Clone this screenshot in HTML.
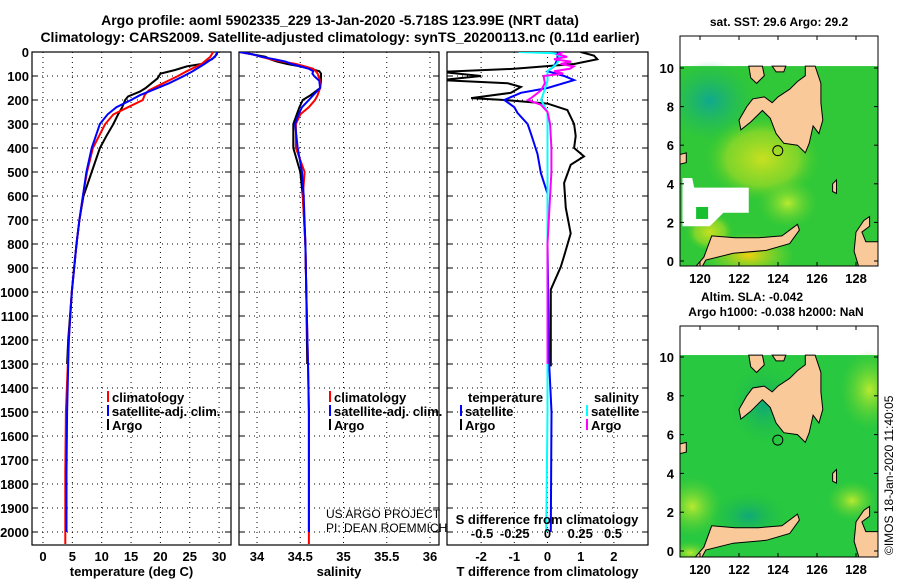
<!DOCTYPE html>
<html><head><meta charset="utf-8"><style>
body{margin:0;background:#fff;}
svg{display:block;font-family:"Liberation Sans",sans-serif;font-weight:bold;}
</style></head><body>
<svg id="c" width="900" height="580" viewBox="0 0 900 580">
<defs>
<clipPath id="cp1"><rect x="32" y="52" width="199" height="493"/></clipPath>
<clipPath id="cp2"><rect x="239" y="52" width="200" height="493"/></clipPath>
<clipPath id="cp3"><rect x="447" y="52" width="201" height="493"/></clipPath>
<clipPath id="cpm1"><rect x="680" y="36" width="198" height="230"/></clipPath>
<clipPath id="cpm2"><rect x="680" y="326" width="198" height="231"/></clipPath>
<radialGradient id="g1" cx="0.5" cy="0.5" r="0.5"><stop offset="0" stop-color="#c8e020"/><stop offset="0.6" stop-color="#90d828" stop-opacity="0.8"/><stop offset="1" stop-color="#30c830" stop-opacity="0"/></radialGradient>
<radialGradient id="g2" cx="0.5" cy="0.5" r="0.5"><stop offset="0" stop-color="#10a890"/><stop offset="1" stop-color="#20b860" stop-opacity="0"/></radialGradient>
<radialGradient id="g3" cx="0.5" cy="0.5" r="0.5"><stop offset="0" stop-color="#f0d010"/><stop offset="1" stop-color="#b0e020" stop-opacity="0"/></radialGradient>
<radialGradient id="g4" cx="0.5" cy="0.5" r="0.5"><stop offset="0" stop-color="#b8ea30"/><stop offset="1" stop-color="#60d030" stop-opacity="0"/></radialGradient>
<radialGradient id="g5" cx="0.5" cy="0.5" r="0.5"><stop offset="0" stop-color="#10a878"/><stop offset="1" stop-color="#20c040" stop-opacity="0"/></radialGradient>
</defs>
<text x="340" y="25" text-anchor="middle" font-size="14">Argo profile: aoml 5902335_229 13-Jan-2020 -5.718S 123.99E (NRT data)</text>
<text x="340" y="42" text-anchor="middle" font-size="14">Climatology: CARS2009. Satellite-adjusted climatology: synTS_20200113.nc (0.11d earlier)</text>
<g id="p1"></g>
<g id="p2"></g>
<g id="p3"></g>
<g id="m1"></g>
<g id="m2"></g>
<text x="779" y="26" text-anchor="middle" font-size="12">sat. SST: 29.6 Argo: 29.2</text>
<text x="752" y="301" text-anchor="middle" font-size="12">Altim. SLA: -0.042</text>
<text x="776" y="316" text-anchor="middle" font-size="12">Argo h1000: -0.038 h2000: NaN</text>
<text transform="translate(893,555) rotate(-90)" font-size="12" font-weight="normal">©IMOS 18-Jan-2020 11:40:05</text>
</svg>
<script>
// ---- data ----
const tDepthArgo=[0,10,30,50,60,75,90,110,130,150,165,185,200,230,260,300,350,400,450,500,600,700,800,900,1000,1100,1200,1300];
const tArgo=[29.7,29.6,28.8,27.0,24.5,22.5,20.0,19.5,18.5,17.5,16.5,14.5,14.0,13.5,12.8,12.0,10.8,9.7,9.0,8.3,6.9,6.2,5.7,5.3,4.9,4.6,4.3,4.1];
const tDepthClim=[0,20,50,80,100,130,160,180,200,230,260,300,400,500,600,700,800,1000,1200,1500,1750,2050];
const tClim=[29.0,28.5,27.0,24.5,23.0,20.5,18.0,17.3,17.0,14.5,12.0,10.6,8.5,7.5,6.8,6.2,5.7,4.9,4.4,3.9,3.8,3.8];
const tDepthSat=[0,20,50,80,100,130,160,180,200,230,260,300,400,500,600,700,800,1000,1200,1500,1750,2000];
const tSat=[29.7,29.3,27.5,25.5,24.0,21.5,18.5,16.5,15.0,12.5,11.0,9.7,8.3,7.4,6.8,6.2,5.7,4.9,4.4,4.1,4.0,4.0];
const sDepthArgo=[0,10,20,30,40,50,60,70,80,90,100,120,150,180,200,230,260,300,400,500,600,800,1000,1300];
const sArgo=[33.8,33.95,34.1,34.15,34.23,34.35,34.5,34.62,34.72,34.74,34.74,34.74,34.73,34.62,34.53,34.49,34.46,34.42,34.42,34.5,34.53,34.56,34.57,34.58];
const sDepthClim=[0,10,20,30,40,50,60,70,80,90,100,120,150,180,200,230,260,300,400,500,600,800,1000,1300,1500,2050];
const sClim=[33.8,33.95,34.05,34.15,34.3,34.45,34.55,34.65,34.68,34.7,34.71,34.73,34.73,34.7,34.67,34.6,34.5,34.45,34.45,34.55,34.53,34.56,34.57,34.59,34.6,34.6];
const sDepthSat=[0,10,20,30,40,50,60,70,80,90,100,120,150,180,200,230,260,300,400,500,600,800,1000,1300,1500,2000];
const sSat=[33.8,33.95,34.05,34.2,34.33,34.4,34.5,34.6,34.65,34.64,34.66,34.72,34.73,34.65,34.6,34.52,34.48,34.44,34.47,34.52,34.54,34.56,34.57,34.59,34.6,34.6];
const dtDepthArgo=[0,15,30,50,70,83,100,117,130,146,170,192,200,215,242,300,350,400,435,470,546,650,756,850,895,990,1100,1200,1310];
const dtArgo=[1.0,1.4,1.5,0.8,-1.0,-3.2,-2.0,-3.2,-1.2,-0.8,-1.1,-2.3,-1.3,0.0,0.6,0.8,0.85,0.8,1.1,0.7,0.5,0.55,0.7,0.5,0.4,0.1,0.1,0.1,0.1];
const dtDepthSat=[0,30,60,80,100,117,150,170,200,230,254,300,340,425,505,590,800,1300,1500,2000];
const dtSat=[0.3,0.3,0.2,0.0,0.5,0.8,0.0,-0.8,-1.3,-1.0,-0.9,-0.6,-0.5,-0.3,-0.2,0.0,0.0,0.05,0.12,0.1];
const dsDepthSat=[0,5,20,50,80,120,170,200,250,500,1000,1500,2000];
const dsSat=[-0.22,0.05,0.1,0.07,0.0,0.0,-0.03,-0.05,0.0,0.0,0.0,0.0,-0.01];
const dsDepthArgo=[0,10,20,30,40,50,60,70,80,90,100,130,160,190,200,220,250,300,400,500,800,1000,1300];
const dsArgo=[0.12,0.08,0.15,0.05,0.18,0.1,0.2,0.17,0.05,0.12,-0.03,-0.02,-0.05,-0.12,-0.15,-0.05,0.0,0.02,0.03,0.03,0.0,0.0,0.0];
const depthTicks=[0,100,200,300,400,500,600,700,800,900,1000,1100,1200,1300,1400,1500,1600,1700,1800,1900,2000];
const tTicks=[0,5,10,15,20,25,30];
const sTicks=[34,34.5,35,35.5,36];
const dtTicks=[-2,-1,0,1,2];
const dsTicks=[-0.5,-0.25,0,0.25,0.5];
const dsTickLabels=["-0.5","-0.25","0","0.25","0.5"];
const latTicks=[0,2,4,6,8,10];
const lonTicks=[120,122,124,126,128];
const argoLon=123.99, argoLat=5.718;

// ---- axes ----
const Y0=52, Y1=545;
const yD=d=>Y0+d*0.24;
const x1=v=>43+v*5.87;
const x2=v=>257+(v-34)*86.5;
const x3=v=>547.5+v*33.2;
const x3s=v=>547.5+v*131;
const NS='http://www.w3.org/2000/svg';
function mk(tag,attrs,parent){const e=document.createElementNS(NS,tag);for(const k in attrs)e.setAttribute(k,attrs[k]);parent.appendChild(e);return e;}
function txt(parent,x,y,s,size,anchor,name){const e=mk('text',{x:x,y:y,'font-size':size,'text-anchor':anchor||'middle'},parent);e.textContent=s;


return e;}

function frame(g,L,R,xt,xfn,labels,showY,xlab){
  const grid=mk('g',{stroke:'#000','stroke-width':1,'stroke-dasharray':'1,4'},g);
  
  
  depthTicks.forEach(d=>{mk('line',{x1:L,x2:R,y1:yD(d),y2:yD(d)},grid);
    mk('line',{x1:L,x2:L+6,y1:yD(d),y2:yD(d),stroke:'#000'},g);
    mk('line',{x1:R-6,x2:R,y1:yD(d),y2:yD(d),stroke:'#000'},g);
    if(showY){txt(g,29,yD(d)+5,String(d),13,'end','depth-tick-label');}});
  xt.forEach((v,i)=>{const x=xfn(v);mk('line',{x1:x,x2:x,y1:Y0,y2:Y1},grid);
    if(labels) txt(g,x,561,labels[i],13,'middle','x-tick-label');});
  mk('rect',{x:L,y:Y0,width:R-L,height:Y1-Y0,fill:'none',stroke:'#000','stroke-width':1.2},g);
  txt(g,(L+R)/2,576,xlab,13,'middle','x-axis-title');
}
function line(g,xs,ds,xfn,color,clip,name){
  const pts=xs.map((v,i)=>xfn(v).toFixed(1)+','+yD(ds[i]).toFixed(1)).join(' ');
  const p=mk('polyline',{points:pts,fill:'none',stroke:color,'stroke-width':2,'clip-path':'url(#'+clip+')'},g);
  
  
}
function legend(g,x,y,items){items.forEach((it,i)=>{
  const r=mk('rect',{x:x,y:y+i*14-11,width:2,height:11,fill:it[1]},g);
  
  
  txt(g,x+5,y+i*14,it[0],13,'start','legend-entry');});}

const p1=document.getElementById('p1'),p2=document.getElementById('p2'),p3=document.getElementById('p3');
frame(p1,32,231,tTicks,x1,tTicks.map(String),true,'temperature (deg C)');
line(p1,tArgo,tDepthArgo,x1,'#000','cp1','temperature-argo-line');
line(p1,tClim,tDepthClim,x1,'#f00','cp1','temperature-climatology-line');
line(p1,tSat,tDepthSat,x1,'#00f','cp1','temperature-satellite-line');
legend(p1,107,402,[['climatology','#f00'],['satellite-adj. clim.','#00f'],['Argo','#000']]);

frame(p2,239,439,sTicks,x2,sTicks.map(String),false,'salinity');
line(p2,sArgo,sDepthArgo,x2,'#000','cp2','salinity-argo-line');
line(p2,sClim,sDepthClim,x2,'#f00','cp2','salinity-climatology-line');
line(p2,sSat,sDepthSat,x2,'#00f','cp2','salinity-satellite-line');
legend(p2,329,402,[['climatology','#f00'],['satellite-adj. clim.','#00f'],['Argo','#000']]);
const c1=txt(p2,326,518,'US ARGO PROJECT',12,'start','credit-project');c1.setAttribute('font-weight','normal');
const c2=txt(p2,326,532,'PI: DEAN ROEMMICH',12,'start','credit-pi');c2.setAttribute('font-weight','normal');

frame(p3,447,648,dtTicks,x3,dtTicks.map(String),false,'T difference from climatology');
line(p3,dtArgo,dtDepthArgo,x3,'#000','cp3','t-diff-argo-line');
line(p3,dtSat,dtDepthSat,x3,'#00f','cp3','t-diff-satellite-line');
line(p3,dsSat,dsDepthSat,x3s,'#0ff','cp3','s-diff-satellite-line');
line(p3,dsArgo,dsDepthArgo,x3s,'#f0f','cp3','s-diff-argo-line');
txt(p3,468,402,'temperature',13,'start','legend-title-temperature');
legend(p3,460,416,[['satellite','#00f'],['Argo','#000']]);
txt(p3,594,402,'salinity',13,'start','legend-title-salinity');
legend(p3,586,416,[['satellite','#0ff'],['Argo','#f0f']]);
txt(p3,547,524,'S difference from climatology',13,'middle','s-diff-axis-title');
dsTicks.forEach((v,i)=>txt(p3,x3s(v),538,dsTickLabels[i],13,'middle','s-diff-tick-label'));

// ---- maps ----
const land=[
 [[124.0,8.5],[124.6,8.9],[125.0,9.3],[125.4,9.6],[125.4,10.1],[125.9,10.1],[126.2,9.2],[126.2,8.2],[126.3,7.3],[126.1,6.6],[125.8,7.0],[125.6,6.1],[125.4,5.6],[125.0,6.0],[124.3,6.1],[123.9,6.6],[123.6,7.4],[123.2,7.8],[122.6,7.2],[122.1,6.8],[122.0,7.3],[122.4,8.0],[122.7,8.4],[123.3,8.5],[123.7,8.2]],
 [[122.5,10.1],[123.2,10.1],[123.3,9.6],[122.9,9.2],[122.6,9.5]],
 [[123.7,10.1],[124.4,10.1],[124.3,9.8],[123.9,9.8]],
 [[119.6,-0.5],[120.2,0.2],[120.6,1.3],[121.8,1.2],[123.0,1.2],[124.2,1.3],[125.0,1.9],[125.1,1.6],[124.6,0.9],[123.4,0.55],[121.7,0.4],[120.3,0.05],[120.0,-0.5]],
 [[128.0,1.5],[128.4,2.1],[128.7,2.3],[128.7,1.8],[128.3,1.5],[128.5,1.0],[129.3,1.0],[129.3,-0.5],[128.2,-0.5],[127.9,0.5]],
 [[118.9,5.5],[119.3,5.6],[119.3,5.1],[118.9,5.0]],
 [[126.8,4.0],[127.0,4.2],[127.0,3.5],[126.8,3.6]]
];
function drawMap(id,top,y10,y0,clip,sst){
  const g=document.getElementById(id);
  const lx=v=>680.5+(v-119)*19.5, ly=v=>y0-(v*(y0-y10)/10);
  const L=680,R=878,B=y0+(top===36?5:6);
  const cg=mk('g',{'clip-path':'url(#'+clip+')'},g);
  const bg=mk('rect',{x:L,y:ly(10.1),width:R-L,height:B-ly(10.1),fill:sst?'#30c838':'#28c840'},cg);
  
  
  if(sst){
    mk('ellipse',{cx:lx(120.5),cy:ly(8.3),rx:45,ry:40,fill:'url(#g2)'},cg);
    mk('ellipse',{cx:lx(123.2),cy:ly(5.3),rx:60,ry:45,fill:'url(#g1)'},cg);
    mk('ellipse',{cx:lx(122.5),cy:ly(0.3),rx:45,ry:22,fill:'url(#g3)'},cg);
    mk('ellipse',{cx:lx(120.5),cy:ly(1.5),rx:25,ry:20,fill:'url(#g1)'},cg);
    mk('ellipse',{cx:lx(124.5),cy:ly(3.0),rx:30,ry:25,fill:'url(#g4)'},cg);
    const w=mk('polygon',{points:[[119.1,4.3],[119.6,4.3],[119.7,3.8],[122.5,3.8],[122.5,2.5],[121.2,2.5],[120.5,1.8],[119.1,1.8]].map(p=>lx(p[0])+','+ly(p[1])).join(' '),fill:'#fff'},cg);
    
    
    mk('rect',{x:lx(119.8),y:ly(2.8),width:12,height:12,fill:'#18c030'},cg);
  } else {
    mk('ellipse',{cx:lx(128.7),cy:ly(8.3),rx:30,ry:40,fill:'url(#g4)'},cg);
    mk('ellipse',{cx:lx(119.6),cy:ly(2.3),rx:30,ry:30,fill:'url(#g4)'},cg);
    mk('ellipse',{cx:lx(122.5),cy:ly(1.8),rx:40,ry:25,fill:'url(#g5)'},cg);
    mk('ellipse',{cx:lx(123.3),cy:ly(7.5),rx:35,ry:40,fill:'url(#g5)'},cg);
    mk('ellipse',{cx:lx(127.8),cy:ly(2.6),rx:25,ry:20,fill:'url(#g4)'},cg);
    mk('ellipse',{cx:lx(119.5),cy:ly(-0.1),rx:20,ry:12,fill:'url(#g4)'},cg);
  }
  land.forEach(poly=>{const p=mk('polygon',{points:poly.map(q=>lx(q[0]).toFixed(1)+','+ly(q[1]).toFixed(1)).join(' '),fill:'#f9c99a',stroke:'#000','stroke-width':1},cg);
    
    });
  const ci=mk('circle',{cx:lx(argoLon),cy:ly(argoLat),r:5,fill:'none',stroke:'#000','stroke-width':1},g);
  
  
  mk('rect',{x:L,y:top,width:R-L,height:B-top,fill:'none',stroke:'#000','stroke-width':1},g);
  latTicks.forEach(v=>{const y=ly(v);mk('line',{x1:L,x2:L+4,y1:y,y2:y,stroke:'#000'},g);mk('line',{x1:R-4,x2:R,y1:y,y2:y,stroke:'#000'},g);
    txt(g,674,y+5,String(v),13,'end','lat-tick-label');});
  lonTicks.forEach(v=>{const x=lx(v);mk('line',{x1:x,x2:x,y1:top,y2:top+4,stroke:'#000'},g);mk('line',{x1:x,x2:x,y1:B-4,y2:B,stroke:'#000'},g);
    txt(g,x,B+17,String(v),13,'middle','lon-tick-label');});
}
drawMap('m1',36,68,261,'cpm1',true);
drawMap('m2',326,357,551,'cpm2',false);
</script>
</body></html>
